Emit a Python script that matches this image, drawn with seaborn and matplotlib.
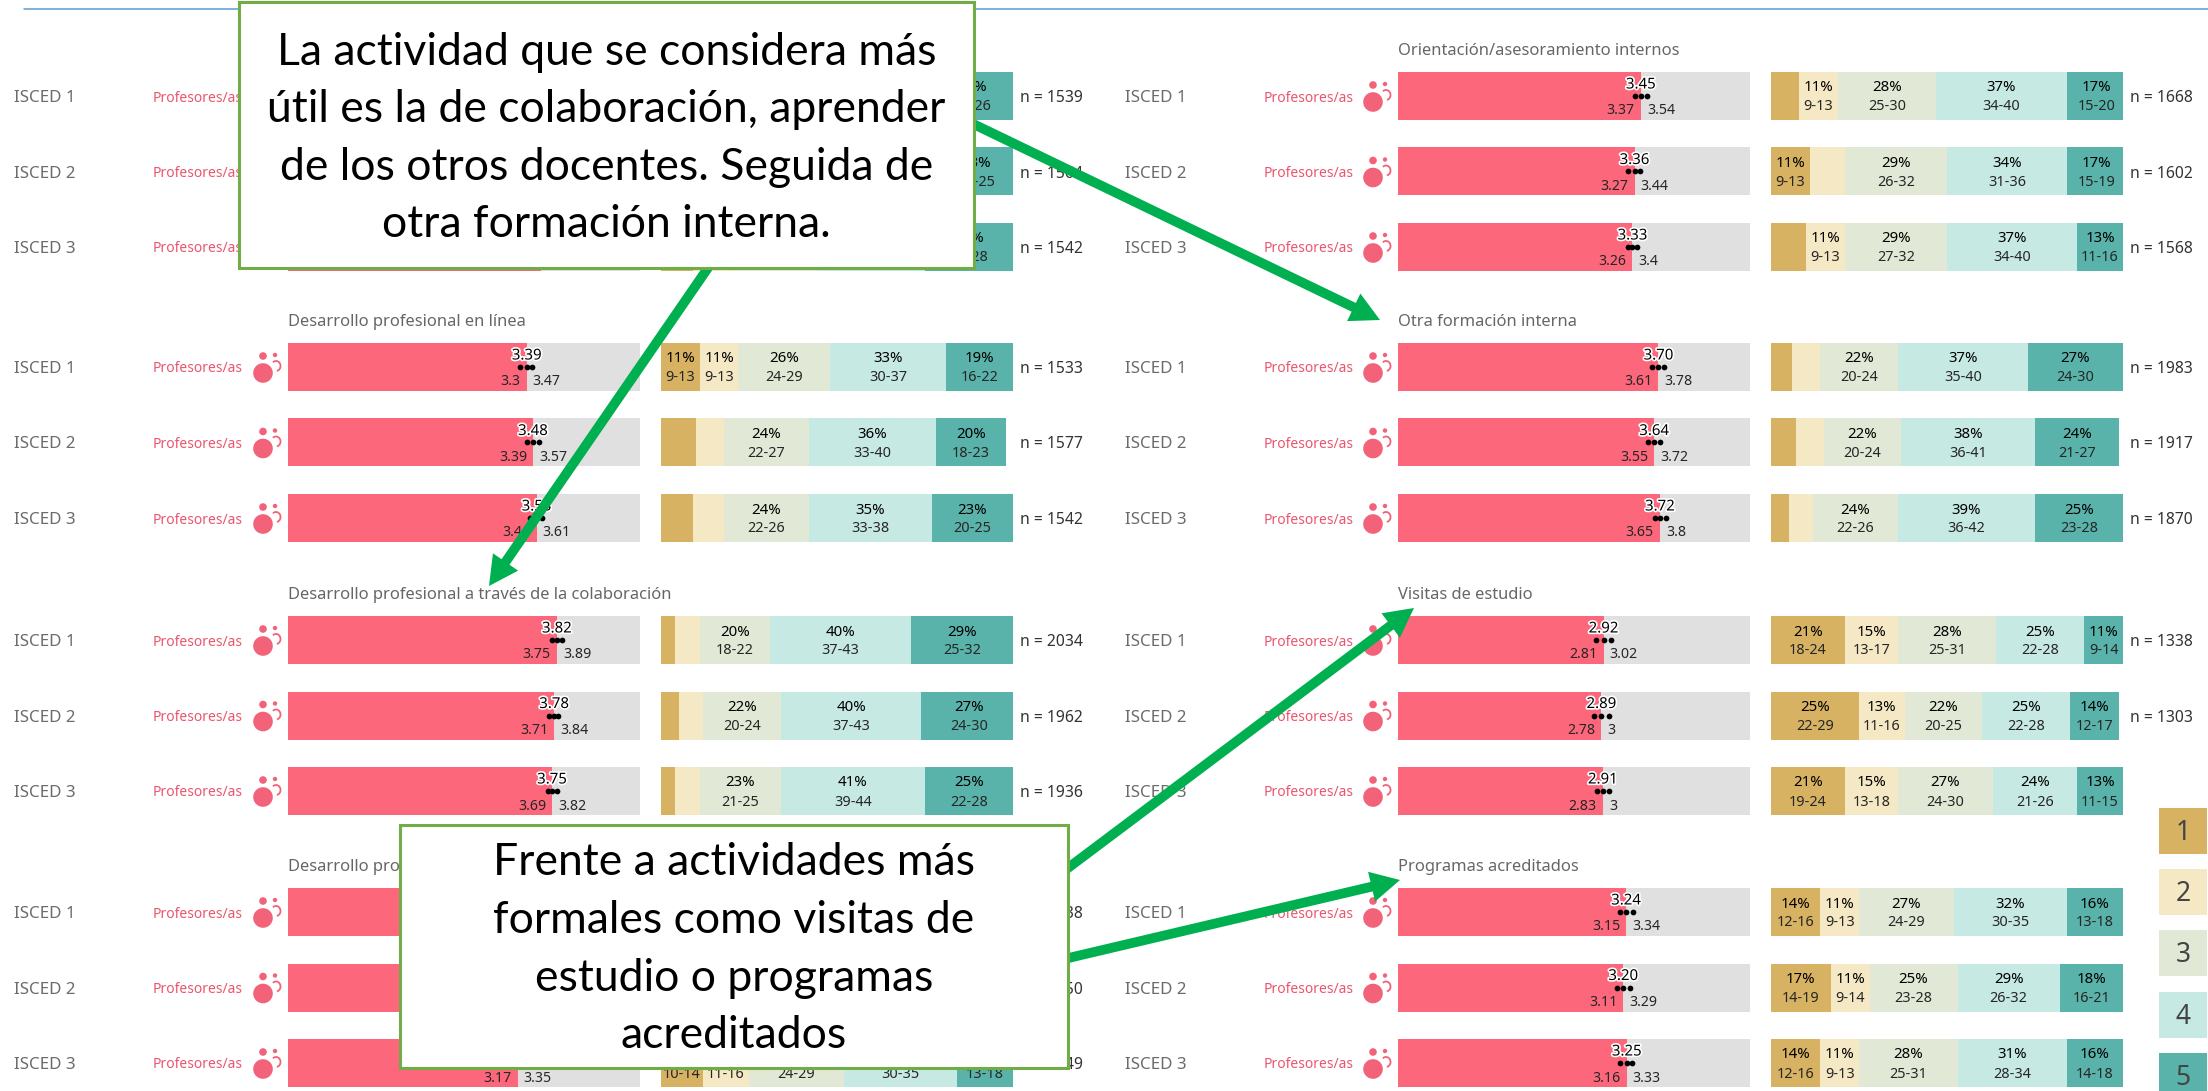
import matplotlib
matplotlib.use("Agg")
import matplotlib.pyplot as plt
import matplotlib.patheffects as pe
from matplotlib.patches import Rectangle, Circle, Arc, FancyArrowPatch
import seaborn as sns

sns.set_theme(style="white")
plt.rcParams["font.family"] = ["Noto Sans", "DejaVu Sans"]

W, H = 2208, 1091
isced = ["ISCED 1", "ISCED 2", "ISCED 3"]
teacher_label = "Profesores/as"

# ----- data -----
titles = ["Cursos/seminarios presenciales", "Desarrollo profesional en línea",
          "Desarrollo profesional a través de la colaboración", "Desarrollo profesional externo",
          "Orientación/asesoramiento internos", "Otra formación interna",
          "Visitas de estudio", "Programas acreditados"]

means = [[3.57, 3.50, 3.59], [3.39, 3.48, 3.53], [3.82, 3.78, 3.75], [3.30, 3.28, 3.26],
         [3.45, 3.36, 3.33], [3.70, 3.64, 3.72], [2.92, 2.89, 2.91], [3.24, 3.20, 3.25]]
lows = [[3.50, 3.42, 3.52], [3.30, 3.39, 3.44], [3.75, 3.71, 3.69], [3.22, 3.19, 3.17],
        [3.37, 3.27, 3.26], [3.61, 3.55, 3.65], [2.81, 2.78, 2.83], [3.15, 3.11, 3.16]]
highs = [[3.64, 3.58, 3.66], [3.47, 3.57, 3.61], [3.89, 3.84, 3.82], [3.38, 3.37, 3.35],
         [3.54, 3.44, 3.40], [3.78, 3.72, 3.80], [3.02, 3.00, 3.00], [3.34, 3.29, 3.33]]

shares = [
    [[8, 10, 26, 33, 23], [9, 11, 26, 32, 23], [9, 11, 25, 30, 25]],
    [[11, 11, 26, 33, 19], [10, 8, 24, 36, 20], [9, 9, 24, 35, 23]],
    [[4, 7, 20, 40, 29], [5, 7, 22, 40, 27], [4, 7, 23, 41, 25]],
    [[13, 12, 26, 32, 17], [13, 12, 26, 31, 18], [12, 13, 27, 32, 16]],
    [[8, 11, 28, 37, 17], [11, 10, 29, 34, 17], [10, 11, 29, 37, 13]],
    [[6, 8, 22, 37, 27], [7, 8, 22, 38, 24], [5, 7, 24, 39, 25]],
    [[21, 15, 28, 25, 11], [25, 13, 22, 25, 14], [21, 15, 27, 24, 13]],
    [[14, 11, 27, 32, 16], [17, 11, 25, 29, 18], [14, 11, 28, 31, 16]],
]
ranges = [
    [["", "", "23-28", "30-36", "20-26"], ["", "9-13", "23-28", "29-35", "20-25"], ["", "9-13", "22-27", "27-33", "22-28"]],
    [["9-13", "9-13", "24-29", "30-37", "16-22"], ["", "", "22-27", "33-40", "18-23"], ["", "", "22-26", "33-38", "20-25"]],
    [["", "", "18-22", "37-43", "25-32"], ["", "", "20-24", "37-43", "24-30"], ["", "", "21-25", "39-44", "22-28"]],
    [["11-15", "10-14", "24-29", "29-35", "14-19"], ["11-15", "10-14", "24-29", "28-34", "15-20"], ["10-14", "11-16", "24-29", "30-35", "13-18"]],
    [["", "9-13", "25-30", "34-40", "15-20"], ["9-13", "", "26-32", "31-36", "15-19"], ["", "9-13", "27-32", "34-40", "11-16"]],
    [["", "", "20-24", "35-40", "24-30"], ["", "", "20-24", "36-41", "21-27"], ["", "", "22-26", "36-42", "23-28"]],
    [["18-24", "13-17", "25-31", "22-28", "9-14"], ["22-29", "11-16", "20-25", "22-28", "12-17"], ["19-24", "13-18", "24-30", "21-26", "11-15"]],
    [["12-16", "9-13", "24-29", "30-35", "13-18"], ["14-19", "9-14", "23-28", "26-32", "16-21"], ["12-16", "9-13", "25-31", "28-34", "14-18"]],
]
ns = [[1539, 1564, 1542], [1533, 1577, 1542], [2034, 1962, 1936], [1538, 1550, 1549],
      [1668, 1602, 1568], [1983, 1917, 1870], [1338, 1303, None], [None, None, None]]

scale_labels = ["1", "2", "3", "4", "5"]
scale_colors = ["#D7B263", "#F5E8C4", "#E1E8D5", "#C7E9E3", "#5AB3AA"]
RED, GREY = "#FC677B", "#E0E0E0"
note_top = ["La actividad que se considera más", "útil es la de colaboración, aprender",
            "de los otros docentes. Seguida de", "otra formación interna."]
note_bottom = ["Frente a actividades más", "formales como visitas de",
               "estudio o programas", "acreditados"]

# ----- layout (pixels) -----
FIRST_ROW = [96, 367, 640, 912]
PITCH = 75.5
BAR_H = 48
COLS = [dict(isced=14, prof=153, bar=288, stack=661, n=1020),
        dict(isced=1125, prof=1264, bar=1398, stack=1771, n=2130)]
BAR_W = 352
BOXES = [(239, 2, 974, 268), (400, 825, 1068, 1068)]

fig = plt.figure(figsize=(W / 100, H / 100), dpi=100, facecolor="white")


def covered(cx, cy, half_w, half_h=9):
    """True when a label centred at (cx, cy) lies wholly under a note box."""
    return any(x0 <= cx - half_w and cx + half_w <= x1 and y0 <= cy - half_h and cy + half_h <= y1
               for x0, y0, x1, y1 in BOXES)


def axes_px(x0, y_center_first, w):
    top = y_center_first - PITCH / 2
    h = PITCH * 3
    return fig.add_axes([x0 / W, 1 - (top + h) / H, w / W, h / H])


under = fig.add_axes([0, 0, 1, 1], zorder=0)
under.set_xlim(0, W)
under.set_ylim(H, 0)
under.axis("off")
over = fig.add_axes([0, 0, 1, 1], zorder=10)
over.set_xlim(0, W)
over.set_ylim(H, 0)
over.axis("off")
over.patch.set_alpha(0)

TXT = "#262626"
for s in range(8):
    col = COLS[s // 4]
    y0 = FIRST_ROW[s % 4]

    # mean panel
    ax = axes_px(col["bar"], y0, BAR_W)
    ax.set_zorder(1)
    sns.barplot(x=[5, 5, 5], y=isced, order=isced, color=GREY, width=BAR_H / PITCH,
                saturation=1, linewidth=0, ax=ax)
    sns.barplot(x=means[s], y=isced, order=isced, color=RED, width=BAR_H / PITCH,
                saturation=1, linewidth=0, ax=ax)
    for r in range(3):
        m, lo, hi = means[s][r], lows[s][r], highs[s][r]
        px = col["bar"] + m / 5 * BAR_W
        py = y0 + r * PITCH
        sns.scatterplot(x=[lo, m, hi], y=[r, r, r], color="black", s=17, linewidth=0,
                        legend=False, ax=ax, zorder=4)
        if not covered(px, py - 11, 18):
            ax.annotate(f"{m:.2f}", (m, r), xytext=(0, 11), textcoords="offset pixels",
                        ha="center", va="center", fontsize=10.8, fontweight="semibold", color="black", zorder=5,
                        path_effects=[pe.withStroke(linewidth=2.4, foreground="white")])
        if not covered(px - 24, py + 15, 18):
            ax.annotate(f"{lo:g}", (m, r), xytext=(-6, -15), textcoords="offset pixels",
                        ha="right", va="center", fontsize=10.2, color=TXT, zorder=5)
        if not covered(px + 24, py + 15, 18):
            ax.annotate(f"{hi:g}", (m, r), xytext=(6, -15), textcoords="offset pixels",
                        ha="left", va="center", fontsize=10.2, color=TXT, zorder=5)
    ax.set_xlim(0, 5)
    ax.set_ylim(2.5, -0.5)
    ax.axis("off")

    # stacked panel
    ax = axes_px(col["stack"], y0, BAR_W)
    ax.set_zorder(1)
    lefts = [0, 0, 0]
    for k in range(5):
        widths = [shares[s][r][k] for r in range(3)]
        sns.barplot(x=widths, y=isced, order=isced, left=lefts, color=scale_colors[k],
                    width=BAR_H / PITCH, saturation=1, linewidth=0, ax=ax)
        for r in range(3):
            if ranges[s][r][k]:
                c = lefts[r] + widths[r] / 2
                px = col["stack"] + c / 100 * BAR_W
                py = y0 + r * PITCH
                if not covered(px, py - 8, 15):
                    ax.annotate(f"{widths[r]}%", (c, r), xytext=(0, 8), textcoords="offset pixels",
                                ha="center", va="center", fontsize=10.8, fontweight="semibold", color="black")
                if not covered(px, py + 11, 20):
                    ax.annotate(ranges[s][r][k], (c, r), xytext=(0, -11), textcoords="offset pixels",
                                ha="center", va="center", fontsize=10.4, color=TXT)
        lefts = [a + b for a, b in zip(lefts, widths)]
    ax.set_xlim(0, 100)
    ax.set_ylim(2.5, -0.5)
    ax.axis("off")

    # row labels, icons and n
    if not covered(col["bar"] + 180, y0 - 46, 180):
        under.text(col["bar"], y0 - 45, titles[s], fontsize=11.9, color="#666666",
                   va="center", ha="left")
    for r in range(3):
        y = y0 + r * PITCH
        under.text(col["isced"], y + 2, isced[r], fontsize=12.2, color="#6B6B6B", va="center")
        under.text(col["prof"], y + 2, teacher_label, fontsize=10, color="#E9566F", va="center")
        ix = col["bar"] - 25
        under.add_patch(Circle((ix, y + 6), 9.8, color="#F2637A", lw=0))
        under.add_patch(Circle((ix, y - 11), 3.8, color="#F2637A", lw=0))
        under.add_patch(Circle((ix + 12, y - 12), 2.2, color="#F2637A", lw=0))
        under.add_patch(Arc((ix + 13, y - 1), 9, 10, theta1=-130, theta2=80,
                            color="#F2637A", lw=1.3))
        if ns[s][r] is not None:
            under.text(col["n"], y + 2, f"n = {ns[s][r]}", fontsize=11.3, color="#333333", va="center")

# scale legend
for i, (lab, colr) in enumerate(zip(scale_labels, scale_colors)):
    top = 808 + i * 61.2
    under.add_patch(Rectangle((2159, top), 48, 46, color=colr, lw=0))
    under.text(2183, top + 25, lab, fontsize=19, color="#444444", ha="center", va="center")

# top rule
under.plot([24, W], [9, 9], color="#5B9BD5", lw=1.1)

# arrows
GREEN = "#00B050"
for start, tip in [((712, 262), (489, 586)), ((965, 120), (1380, 320)),
                   ((1060, 874), (1414, 608)), ((1060, 960), (1400, 880))]:
    over.add_patch(FancyArrowPatch(start, tip, shrinkA=0, shrinkB=0, mutation_scale=1, lw=0,
                                   color=GREEN,
                                   arrowstyle="simple,tail_width=7,head_width=22,head_length=21"))

# note boxes
for (x0, y0, x1, y1), lines, bases in [
    (BOXES[0], note_top, [65, 122, 180, 237]),
    (BOXES[1], note_bottom, [875, 933, 991, 1048]),
]:
    over.add_patch(Rectangle((x0, y0), x1 - x0, y1 - y0, facecolor="white",
                             edgecolor="#70AD47", lw=2.2))
    for line, b in zip(lines, bases):
        over.text((x0 + x1) / 2, b, line, fontsize=32, family="Lato", color="black",
                  ha="center", va="baseline")

fig.savefig("out.png", dpi=100, facecolor="white")
